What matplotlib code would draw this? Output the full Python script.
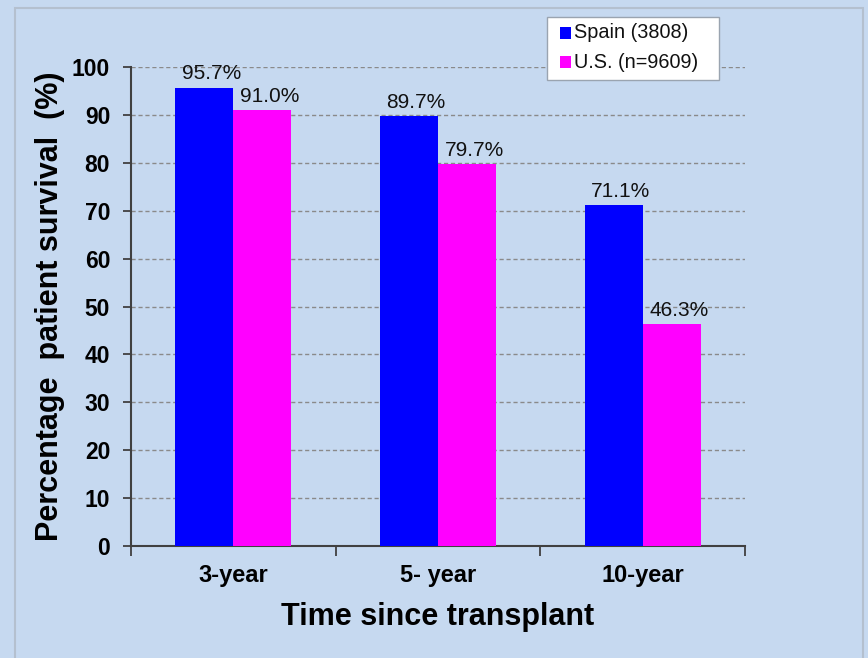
import matplotlib
matplotlib.use("Agg")
import matplotlib.pyplot as plt
from matplotlib.patches import Rectangle
import numpy as np

categories = ["3-year", "5- year", "10-year"]
spain = [95.7, 89.7, 71.1]
us = [91.0, 79.7, 46.3]
series_names = ["Spain (3808)", "U.S. (n=9609)"]
colors = ["#0000ff", "#ff00ff"]
yticks = [0, 10, 20, 30, 40, 50, 60, 70, 80, 90, 100]

plt.rcParams['font.family'] = ['Liberation Sans', 'DejaVu Sans']
bg = "#c6d9f0"

fig = plt.figure(figsize=(8.68, 6.58), dpi=100, facecolor=bg)
W, H = 868, 658
ax = fig.add_axes([131 / W, 1 - 546 / H, (745 - 131) / W, (546 - 67) / H])
ax.set_facecolor(bg)

x = np.arange(len(categories))
bw = 0.284
b1 = ax.bar(x - bw / 2, spain, bw, color=colors[0], zorder=3)
b2 = ax.bar(x + bw / 2, us, bw, color=colors[1], zorder=3)

for bars, vals in ((b1, spain), (b2, us)):
    for r, v in zip(bars, vals):
        ax.annotate(f"{v:.1f}%", (r.get_x() + r.get_width() / 2, v),
                    xytext=(5, 6), textcoords="offset points",
                    ha="center", va="baseline", fontsize=15, color="#111111", zorder=4)

ax.set_xlim(-0.5, 2.5)
ax.set_ylim(0, 100)
ax.set_yticks(yticks)
ax.set_yticklabels([str(t) for t in yticks], fontsize=16.5, fontweight="bold")
ax.yaxis.grid(True, linestyle=(0, (3, 2)), color="#8a8a8a", linewidth=1, zorder=0)
ax.set_axisbelow(True)

ax.set_xticks(x)
ax.set_xticklabels(categories, fontsize=17, fontweight="bold")
ax.set_xticks([-0.5, 0.5, 1.5, 2.5], minor=True)
ax.tick_params(axis="x", which="major", length=0, pad=13)
ax.tick_params(axis="x", which="minor", length=7, width=1.3, color="#404040", direction="out")
ax.tick_params(axis="y", which="major", length=6, width=1.3, color="#404040", direction="out", pad=9)

for s in ("top", "right"):
    ax.spines[s].set_visible(False)
for s in ("left", "bottom"):
    ax.spines[s].set_color("#404040")
    ax.spines[s].set_linewidth(1.5)

ax.set_xlabel("Time since transplant", fontsize=22, fontweight="bold", labelpad=11)
ax.set_ylabel("Percentage  patient survival  (%)", fontsize=22, fontweight="bold", labelpad=5)

# legend drawn as a framed box in figure pixel coordinates
def fx(px):
    return px / W

def fy(py):
    return 1 - py / H

fig.patches.append(Rectangle((fx(547), fy(80)), (719 - 547) / W, (80 - 17) / H,
                             transform=fig.transFigure, facecolor="white",
                             edgecolor="#9aa4b0", linewidth=1, zorder=10))
row_y = [33, 62]
for name, c, ry in zip(series_names, colors, row_y):
    fig.patches.append(Rectangle((fx(560), fy(ry + 5.5)), 11 / W, 11 / H,
                                 transform=fig.transFigure, facecolor=c,
                                 edgecolor="none", zorder=11))
    fig.text(fx(574), fy(ry), name, fontsize=14.3, va="center", ha="left",
             color="#111111", zorder=12)

fig.patches.append(Rectangle((15 / W, -0.1), (863 - 15) / W, 1.1 - 8 / H,
                             transform=fig.transFigure, fill=False,
                             edgecolor="#b4c0cf", linewidth=1.5))

fig.savefig("out.png", dpi=100, facecolor=bg)
